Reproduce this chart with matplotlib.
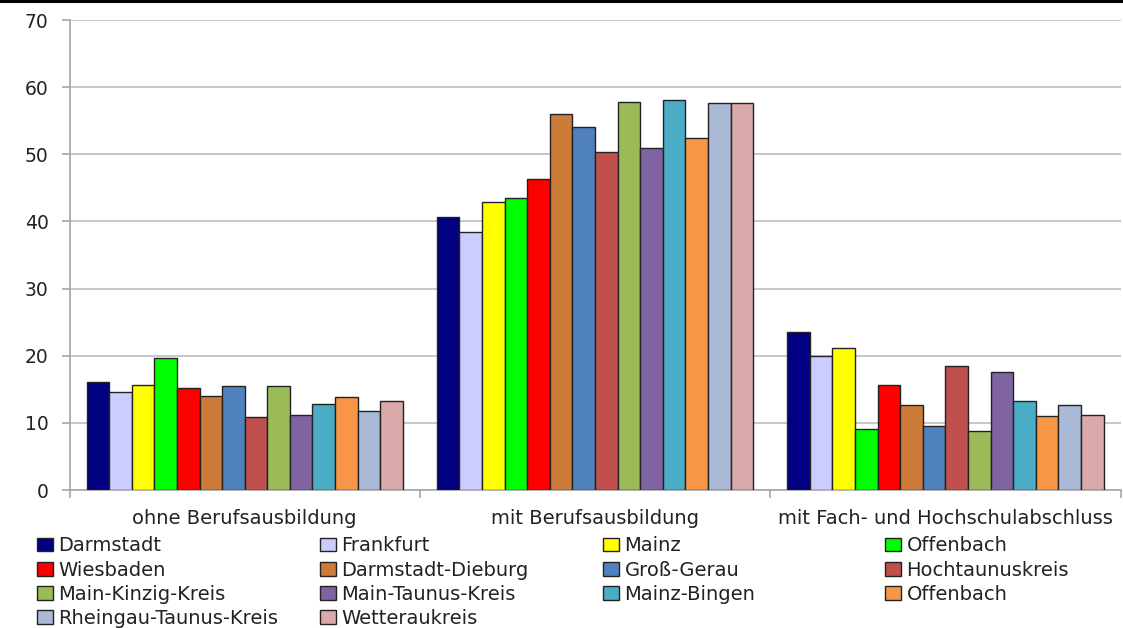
import matplotlib
matplotlib.use("Agg")
import matplotlib.pyplot as plt
from matplotlib.lines import Line2D
import numpy as np

# categories on the x axis
categories = ["ohne Berufsausbildung", "mit Berufsausbildung",
              "mit Fach- und Hochschulabschluss"]

# regions (one bar each per category)
regions = ["Darmstadt", "Frankfurt", "Mainz", "Offenbach", "Wiesbaden",
           "Darmstadt-Dieburg", "Groß-Gerau", "Hochtaunuskreis",
           "Main-Kinzig-Kreis", "Main-Taunus-Kreis", "Mainz-Bingen",
           "Offenbach", "Rheingau-Taunus-Kreis", "Wetteraukreis"]

colours = ["#000080", "#CCCCFF", "#FFFF00", "#00FF00", "#FF0000",
           "#CC7B38", "#4F81BD", "#C0504D", "#9BBB59", "#8064A2",
           "#4BACC6", "#F79646", "#AAB9D6", "#DAA9A9"]

# values per region: [ohne, mit, Fach-/Hochschule]
ohne = [16.1, 14.6, 15.6, 19.6, 15.2, 14.0, 15.5, 10.9, 15.5, 11.2, 12.8, 13.9, 11.7, 13.3]
mit = [40.7, 38.4, 42.9, 43.5, 46.3, 56.0, 54.1, 50.3, 57.8, 50.9, 58.1, 52.4, 57.6, 57.6]
hoch = [23.5, 20.0, 21.1, 9.1, 15.7, 12.6, 9.5, 18.5, 8.8, 17.6, 13.3, 11.1, 12.6, 11.2]

yticks = [0, 10, 20, 30, 40, 50, 60, 70]

plt.rcParams['font.family'] = ['DejaVu Sans']
TXT = "#222222"
GRID = "#BEBEBE"
AXC = "#A6A6A6"

fig = plt.figure(figsize=(11.23, 6.28), dpi=100)
ax = fig.add_axes([0.0619, 0.2197, 0.936, 0.7484])

x = np.arange(len(categories))
n = len(regions)
w = 0.903 / n
bars = []
for i in range(n):
    vals = [ohne[i], mit[i], hoch[i]]
    b = ax.bar(x - 0.4515 + w * (i + 0.5), vals, w, color=colours[i],
               edgecolor="#222222", linewidth=1.0, zorder=3, label=regions[i])
    bars.append(b)

ax.set_xlim(-0.5, 2.5)
ax.set_ylim(0, 70)
ax.set_yticks(yticks)
ax.yaxis.grid(True, color=GRID, linewidth=1.2, zorder=0)
ax.set_axisbelow(True)

for s in ("top", "right"):
    ax.spines[s].set_visible(False)
for s in ("left", "bottom"):
    ax.spines[s].set_color(AXC)
    ax.spines[s].set_linewidth(1.2)

ax.tick_params(axis="y", length=6, width=1.2, color=AXC, pad=9,
               labelsize=13.5, labelcolor=TXT)
ax.set_xticks(x)
ax.set_xticklabels(categories)
ax.tick_params(axis="x", which="major", length=0, pad=13.5,
               labelsize=14, labelcolor=TXT)
# separator ticks between the groups
ax.set_xticks([-0.5, 0.5, 1.5, 2.5], minor=True)
ax.tick_params(axis="x", which="minor", length=6, width=1.2, color=AXC,
               direction="out")

# legend: 4 columns, filled row by row -> one legend per column
col_x = [37, 320, 603, 885]
for c in range(4):
    idx = list(range(c, n, 4))
    leg = fig.legend([bars[k] for k in idx], [regions[k] for k in idx],
                     loc="upper left",
                     bbox_to_anchor=(col_x[c] / 1123, 0.146),
                     frameon=False, fontsize=14, borderpad=0,
                     borderaxespad=0, handlelength=0.8, handleheight=0.7,
                     handletextpad=0.3, labelspacing=0.27, labelcolor=TXT)

# black rule along the top edge
fig.add_artist(Line2D([0, 1], [0.998, 0.998], color="black", linewidth=2.2,
                      transform=fig.transFigure))

fig.savefig("out.png", dpi=100)
